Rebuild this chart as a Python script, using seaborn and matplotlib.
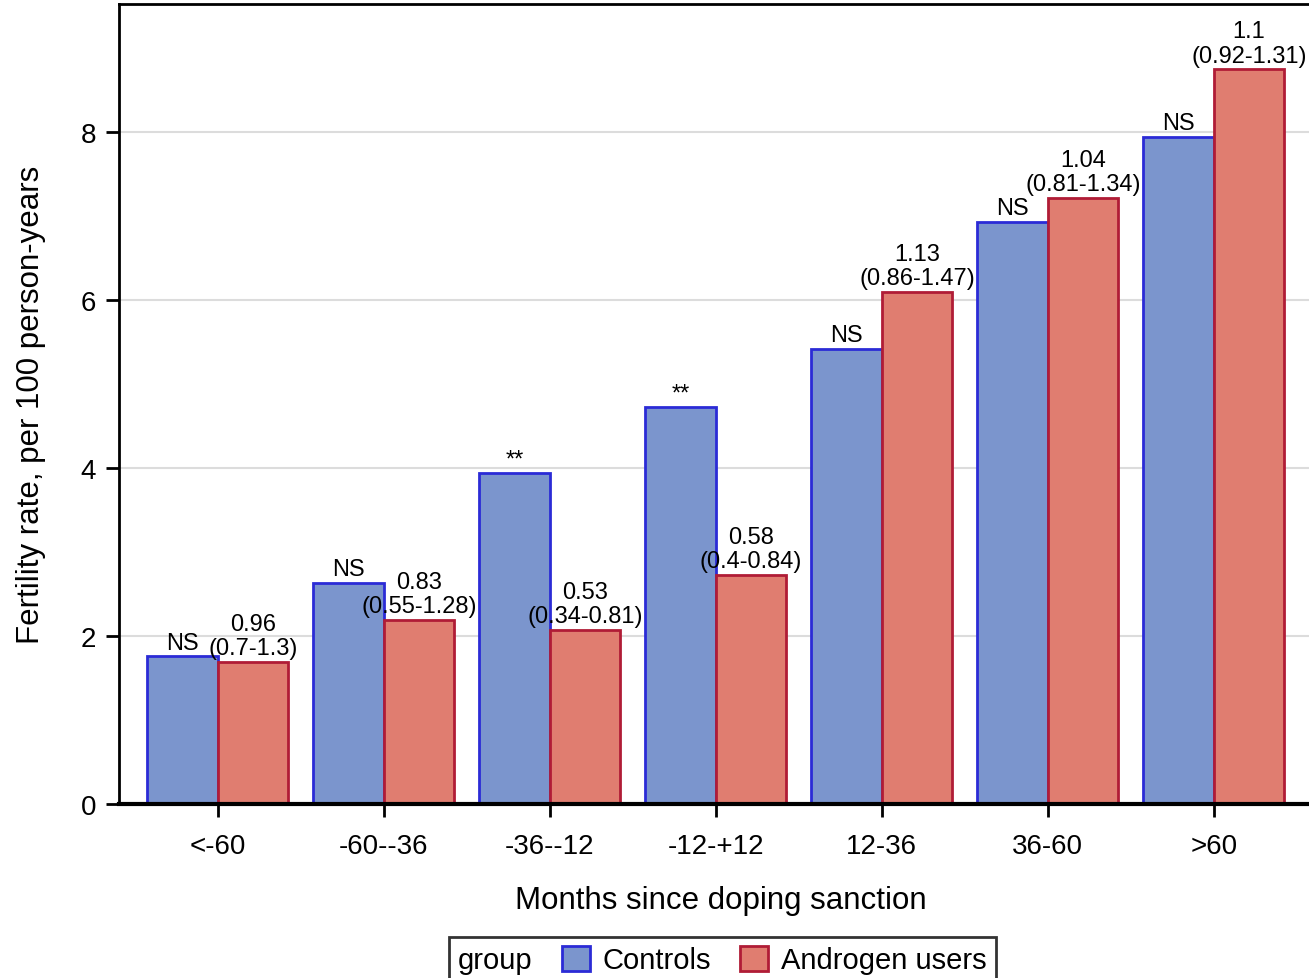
import matplotlib
matplotlib.use("Agg")
import matplotlib.pyplot as plt
import seaborn as sns
import pandas as pd
from matplotlib.patches import Patch

categories = ["<-60", "-60--36", "-36--12", "-12-+12", "12-36", "36-60", ">60"]
controls = [1.76, 2.63, 3.94, 4.73, 5.42, 6.93, 7.95]
androgen = [1.69, 2.19, 2.07, 2.73, 6.10, 7.22, 8.75]
ctrl_labels = ["NS", "NS", "**", "**", "NS", "NS", "NS"]
andr_labels = ["0.96\n(0.7-1.3)", "0.83\n(0.55-1.28)", "0.53\n(0.34-0.81)",
               "0.58\n(0.4-0.84)", "1.13\n(0.86-1.47)", "1.04\n(0.81-1.34)",
               "1.1\n(0.92-1.31)"]
groups = ["Controls", "Androgen users"]

sns.set_style("white")
plt.rcParams['font.family'] = ['Liberation Sans', 'DejaVu Sans']
plt.rcParams['text.color'] = 'black'
plt.rcParams['axes.labelcolor'] = 'black'
plt.rcParams['xtick.color'] = 'black'
plt.rcParams['ytick.color'] = 'black'

df = pd.DataFrame({
    "cat": categories * 2,
    "val": controls + androgen,
    "group": [groups[0]] * len(categories) + [groups[1]] * len(categories),
})

fills = {"Controls": "#7b95cd", "Androgen users": "#e07d70"}
edges = {"Controls": "#2b2bd6", "Androgen users": "#b01c36"}

fig = plt.figure(figsize=(13.09, 9.79), dpi=100)
ax = fig.add_axes([0.0909, 0.1777, 0.9091 + 0.011, 0.8172])

ax.set_axisbelow(True)
ax.yaxis.grid(True, color="#dcdcdc", linewidth=1.5)
sns.barplot(data=df, x="cat", y="val", hue="group", order=categories,
            hue_order=groups, palette=fills, saturation=1, width=0.85,
            ax=ax, legend=False)
for cont, g in zip(ax.containers, groups):
    for p in cont:
        p.set_edgecolor(edges[g])
        p.set_linewidth(2)

for cont, labs in zip(ax.containers, [ctrl_labels, andr_labels]):
    for p, lab in zip(cont, labs):
        ax.annotate(lab, (p.get_x() + p.get_width() / 2, p.get_height()),
                    xytext=(0, 2), textcoords="offset points",
                    ha="center", va="bottom", fontsize=17, linespacing=1.15,
                    color="black")

ax.set_xlim(-0.596, 6.66)
ax.set_ylim(0, 9.53)
ax.set_yticks([0, 2, 4, 6, 8])
ax.tick_params(axis="both", labelsize=20, length=9.5, width=2, direction="out",
               color="black", labelcolor="black", bottom=True, left=True)
ax.tick_params(axis="x", pad=11)
ax.tick_params(axis="y", pad=7)
ax.set_xlabel("Months since doping sanction", fontsize=22.5, labelpad=19)
ax.set_ylabel("Fertility rate, per 100 person-years", fontsize=22.5, labelpad=25)
for s in ["left", "top", "right"]:
    ax.spines[s].set_color("black")
    ax.spines[s].set_linewidth(2)
ax.spines["bottom"].set_color("black")
ax.spines["bottom"].set_linewidth(3)

handles = [Patch(facecolor=fills[g], edgecolor=edges[g], linewidth=2) for g in groups]
leg = fig.legend(handles, groups, title="group", ncol=2, loc="upper center",
                 bbox_to_anchor=(0.552, 0.042), fontsize=21, title_fontsize=21,
                 frameon=True, fancybox=False, edgecolor="black",
                 handlelength=0.95, handleheight=0.95, handletextpad=0.45,
                 columnspacing=1.0, borderpad=0.3, borderaxespad=0)
leg.get_frame().set_linewidth(2)
# put the title inline, to the left of the entries
c = leg.get_children()[0]
title_box = c.get_children()[0]
hbox = c.get_children()[1]
hbox.sep = 21
c._children = [hbox]
hbox._children = [title_box] + hbox.get_children()

fig.savefig("out.png", dpi=100)
